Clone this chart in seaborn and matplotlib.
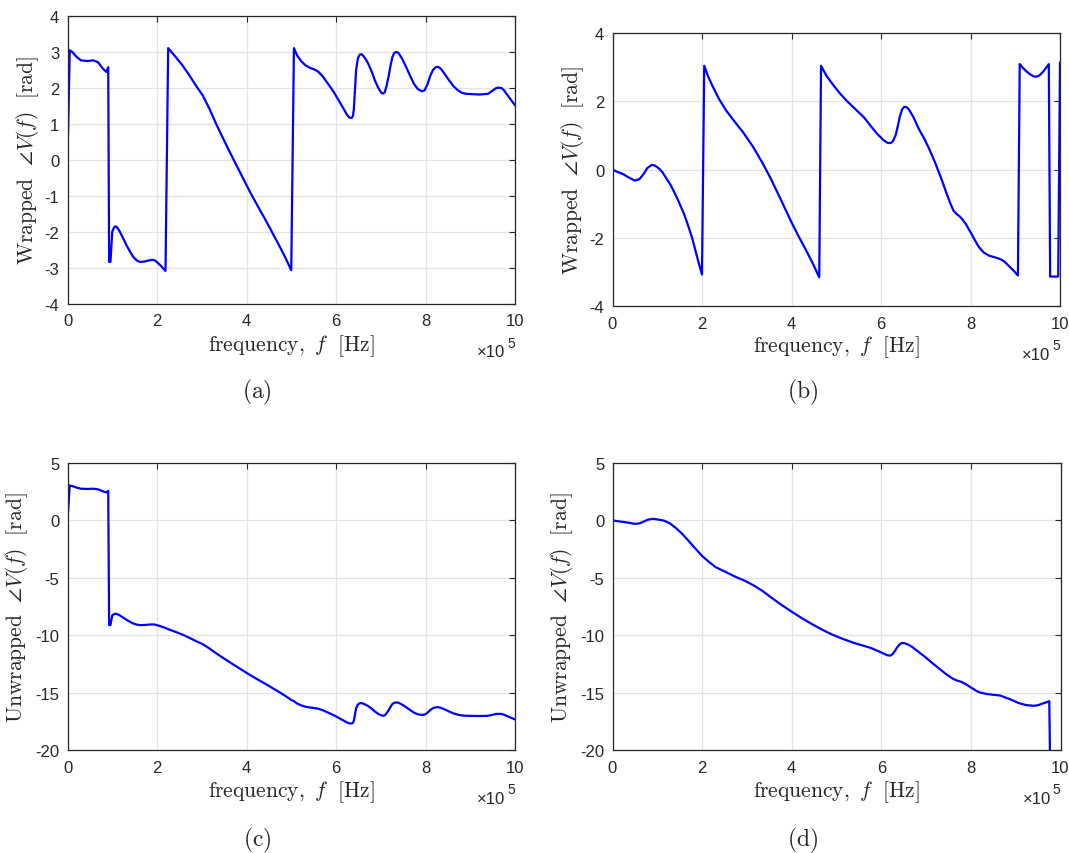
import matplotlib
matplotlib.use("Agg")
import matplotlib.pyplot as plt
import seaborn as sns
import pandas as pd
from matplotlib.ticker import FuncFormatter, MultipleLocator

# ---------------- data (frequency in units of 1e5 Hz, phase in rad) ----------------
freq_a = [0.0, 0.05, 0.11, 0.2, 0.3, 0.45, 0.57, 0.68, 0.79, 0.87, 0.91,
          0.93, 0.96, 1.0, 1.04, 1.07, 1.11, 1.17, 1.25, 1.32, 1.4, 1.47, 1.55, 1.62, 1.72, 1.81,
          1.9, 1.96, 2.08, 2.19,
          2.25, 2.4, 2.57, 2.72, 2.87, 3.02, 3.17, 3.32, 3.5, 3.7, 3.9, 4.08, 4.27, 4.45, 4.6,
          4.75, 4.88, 5.0,
          5.06, 5.13, 5.22, 5.32, 5.42, 5.51, 5.6, 5.7, 5.78, 5.85, 5.95, 6.04, 6.12, 6.19,
          6.25, 6.3, 6.35, 6.38, 6.4, 6.42, 6.45, 6.49, 6.53, 6.57, 6.6, 6.66, 6.72, 6.8,
          6.87, 6.95, 7.02, 7.06, 7.09, 7.13, 7.18, 7.22, 7.26, 7.3, 7.34, 7.38, 7.41, 7.48,
          7.55, 7.65, 7.74, 7.83, 7.92, 7.98, 8.04, 8.11, 8.17, 8.23, 8.28, 8.34, 8.43, 8.53,
          8.62, 8.72, 8.81, 8.91, 9.05, 9.21, 9.4, 9.5, 9.58, 9.64, 9.7, 9.76, 9.81, 9.9, 10.0]
phase_a = [0.0, 3.04, 2.99, 2.86, 2.76, 2.74, 2.76, 2.71, 2.53, 2.44, 2.57,
           -2.84, -2.84, -2.0, -1.88, -1.85, -1.88, -2.0, -2.2, -2.38, -2.56, -2.7, -2.8, -2.84,
           -2.83, -2.8, -2.78, -2.8, -2.94, -3.09,
           3.1, 2.88, 2.62, 2.35, 2.06, 1.79, 1.42, 1.0, 0.53, 0.03, -0.46, -0.9, -1.33, -1.73,
           -2.08, -2.43, -2.75, -3.07,
           3.1, 2.9, 2.74, 2.62, 2.55, 2.51, 2.45, 2.32, 2.18, 2.06, 1.88, 1.69, 1.52, 1.37,
           1.24, 1.17, 1.16, 1.22, 1.42, 1.85, 2.5, 2.82, 2.92, 2.93, 2.9, 2.8, 2.67, 2.44,
           2.2, 1.98, 1.85, 1.84, 1.88, 2.05, 2.34, 2.62, 2.85, 2.96, 2.99, 2.98, 2.94, 2.8,
           2.62, 2.35, 2.11, 1.96, 1.9, 1.93, 2.08, 2.34, 2.5, 2.57, 2.58, 2.53, 2.38, 2.2,
           2.05, 1.93, 1.86, 1.83, 1.82, 1.81, 1.83, 1.92, 1.99, 2.0, 1.99, 1.92, 1.83, 1.68, 1.51]

freq_c = freq_a
phase_c = [0.0, 3.04, 2.99, 2.86, 2.76, 2.74, 2.76, 2.71, 2.53, 2.44, 2.57,
           -9.12, -9.12, -8.28, -8.16, -8.13, -8.16, -8.28, -8.48, -8.66, -8.84, -8.98, -9.08, -9.12,
           -9.11, -9.08, -9.06, -9.08, -9.22, -9.37,
           -9.47, -9.69, -9.95, -10.22, -10.51, -10.78, -11.15, -11.57, -12.04, -12.54, -13.03,
           -13.47, -13.9, -14.30, -14.65, -15.0, -15.32, -15.64,
           -15.75, -15.95, -16.11, -16.23, -16.3, -16.34, -16.4, -16.53, -16.67, -16.79, -16.97,
           -17.16, -17.33, -17.48, -17.61, -17.68, -17.69, -17.63, -17.43, -17.0, -16.35, -16.03,
           -15.93, -15.92, -15.95, -16.05, -16.18, -16.41,
           -16.65, -16.87, -17.0, -17.01, -16.97, -16.8, -16.51, -16.23, -16.0, -15.89, -15.86,
           -15.87, -15.91, -16.05,
           -16.23, -16.5, -16.74, -16.89, -16.95, -16.92, -16.77, -16.51, -16.35, -16.28, -16.27,
           -16.32, -16.47, -16.65,
           -16.8, -16.92, -16.99, -17.02, -17.03, -17.04, -17.02, -16.93, -16.86, -16.85, -16.86,
           -16.93, -17.02, -17.17, -17.34]

freq_b = [0.0, 0.1, 0.25, 0.35, 0.5, 0.6, 0.7, 0.78, 0.88, 0.95, 1.05, 1.12, 1.2, 1.3, 1.38,
          1.45, 1.55, 1.6, 1.69, 1.78, 1.85, 1.92, 2.0,
          2.05, 2.14, 2.23, 2.38, 2.54, 2.72, 2.92, 3.03, 3.15, 3.35, 3.54, 3.77, 4.0, 4.15,
          4.31, 4.47, 4.62,
          4.66, 4.78, 4.92, 5.07, 5.23, 5.42, 5.62, 5.77, 5.92, 6.05, 6.15, 6.22, 6.27, 6.33,
          6.38, 6.42, 6.47, 6.52, 6.57, 6.62, 6.72, 6.85, 6.97, 7.08, 7.22,
          7.35, 7.45, 7.54, 7.62, 7.69, 7.75, 7.81, 7.9, 8.0, 8.1, 8.19, 8.3, 8.42, 8.55, 8.65,
          8.75, 8.85, 8.96, 9.06,
          9.1, 9.17, 9.23, 9.32, 9.41, 9.47, 9.54, 9.62, 9.7, 9.75, 9.78, 9.96, 10.0]
phase_b = [0.0, -0.06, -0.14, -0.22, -0.32, -0.28, -0.12, 0.05, 0.14, 0.12, 0.02, -0.08, -0.25,
           -0.45, -0.66, -0.85, -1.15, -1.3, -1.64, -2.0, -2.35, -2.7, -3.07,
           3.04, 2.72, 2.46, 2.07, 1.73, 1.42, 1.09, 0.88, 0.65, 0.2, -0.27, -0.9, -1.54, -1.93,
           -2.32, -2.73, -3.15,
           3.04, 2.75, 2.5, 2.25, 2.02, 1.78, 1.53, 1.28, 1.04, 0.87, 0.78, 0.78, 0.84, 1.02,
           1.3, 1.55, 1.76, 1.84, 1.83, 1.77, 1.55, 1.18, 0.9, 0.6, 0.17,
           -0.27, -0.64, -0.96, -1.2, -1.3, -1.36, -1.44, -1.6, -1.83, -2.07, -2.27, -2.43,
           -2.52, -2.57, -2.61, -2.68, -2.81, -2.95, -3.1,
           3.09, 2.98, 2.9, 2.8, 2.73, 2.72, 2.76, 2.86, 3.0, 3.09, -3.13, -3.13, 3.14]

freq_d = [0.0, 0.1, 0.25, 0.35, 0.5, 0.6, 0.7, 0.78, 0.88, 0.95, 1.05, 1.15, 1.28, 1.42,
          1.55, 1.69, 1.85, 2.0, 2.15, 2.3, 2.53, 2.76, 2.95,
          3.15, 3.35, 3.53, 3.75, 3.99, 4.22, 4.45, 4.68, 4.91, 5.14, 5.37, 5.57, 5.76, 5.95,
          6.08, 6.14, 6.2, 6.25, 6.3, 6.35, 6.41, 6.46, 6.52, 6.6, 6.68, 6.83,
          6.98, 7.13, 7.29, 7.45, 7.6, 7.69, 7.79, 7.9, 8.02, 8.12, 8.21, 8.35, 8.52, 8.65, 8.75,
          8.9, 9.06, 9.22, 9.4, 9.5, 9.6, 9.68, 9.75,
          9.77, 9.96]
phase_d = [0.0, -0.06, -0.14, -0.2, -0.3, -0.26, -0.1, 0.05, 0.13, 0.12, 0.05, -0.02,
           -0.25, -0.68, -1.15, -1.75, -2.45, -3.1, -3.6, -4.07, -4.5, -4.94, -5.25,
           -5.66, -6.15, -6.68, -7.3, -7.93, -8.5, -9.03, -9.52, -9.96, -10.32, -10.65, -10.88,
           -11.1, -11.42, -11.65, -11.75, -11.78, -11.65, -11.4, -11.08, -10.8, -10.68, -10.7,
           -10.82, -11.0, -11.45,
           -11.9, -12.4, -12.9, -13.4, -13.8, -13.95, -14.07, -14.3, -14.6, -14.85, -15.0, -15.12,
           -15.2, -15.25, -15.4, -15.62, -15.9, -16.08, -16.15, -16.1, -15.95, -15.85, -15.75,
           -22.0, -22.0]

x_label = r"$\mathrm{frequency,}\ f\ \ \mathrm{[Hz]}$"
y_labels = [r"$\mathrm{Wrapped}\ \ \angle V(f)\ \ \mathrm{[rad]}$",
            r"$\mathrm{Wrapped}\ \ \angle V(f)\ \ \mathrm{[rad]}$",
            r"$\mathrm{Unwrapped}\ \ \angle V(f)\ \ \mathrm{[rad]}$",
            r"$\mathrm{Unwrapped}\ \ \angle V(f)\ \ \mathrm{[rad]}$"]
captions = [r"$\mathrm{(a)}$", r"$\mathrm{(b)}$", r"$\mathrm{(c)}$", r"$\mathrm{(d)}$"]

# ---------------- style ----------------
sns.set_style("white")
plt.rcParams["font.family"] = ["Liberation Sans", "DejaVu Sans"]
plt.rcParams["mathtext.fontset"] = "cm"
plt.rcParams["axes.unicode_minus"] = False

W, H = 1069, 854
fig = plt.figure(figsize=(W / 100, H / 100), dpi=100)
fig.patch.set_facecolor("white")

def px_axes(l, t, r, b):
    return fig.add_axes([l / W, 1 - b / H, (r - l) / W, (b - t) / H])

boxes = [(67.5, 16.7, 515, 304.7), (612.5, 34, 1060, 307.3),
         (67.5, 464, 515, 751), (612.5, 464, 1060.5, 751)]
series = [(freq_a, phase_a), (freq_b, phase_b), (freq_c, phase_c), (freq_d, phase_d)]
ylims = [(-4, 4), (-4, 4), (-20, 5), (-20, 5)]
ysteps = [1, 2, 5, 5]
ylab_x = [-0.060, -0.060, -0.083, -0.083]
caption_pos = [(257, 392), (803, 392), (257, 840), (803, 840)]

dark = "#262626"
for i, ((l, t, r, b), (fx, ph)) in enumerate(zip(boxes, series)):
    ax = px_axes(l, t, r, b)
    df = pd.DataFrame({"f": fx, "phase": ph})
    sns.lineplot(data=df, x="f", y="phase", ax=ax, sort=False, estimator=None,
                 color="#0000ff", linewidth=1.6)
    ax.set_xlim(0, 10)
    ax.set_ylim(*ylims[i])
    ax.xaxis.set_major_locator(MultipleLocator(2))
    ax.yaxis.set_major_locator(MultipleLocator(ysteps[i]))
    fmt = FuncFormatter(lambda v, p: f"{v:g}")
    ax.xaxis.set_major_formatter(fmt)
    ax.yaxis.set_major_formatter(fmt)
    ax.grid(True, color="#e3e3e3", linewidth=0.9)
    ax.set_axisbelow(True)
    for s in ax.spines.values():
        s.set_visible(True)
        s.set_color(dark)
        s.set_linewidth(0.9)
    ax.tick_params(direction="in", length=4, width=0.8, colors=dark,
                   labelsize=12, top=True, right=True, pad=6)
    ax.tick_params(axis="x", pad=7)
    ax.set_xlabel(x_label, fontsize=15.5, color=dark)
    ax.set_ylabel(y_labels[i], fontsize=15.5, color=dark)
    hh = (b - t)
    ax.xaxis.set_label_coords(0.5, -(333 - 304.7) / 288)
    ax.yaxis.set_label_coords(ylab_x[i], 0.5)
    # multiplier text (x10^5)
    yoff = -46 / hh
    ax.annotate("5", xy=(1.0, yoff), xycoords="axes fraction", xytext=(0, 0),
                textcoords="offset points", ha="right", va="bottom",
                fontsize=10, color=dark)
    ax.annotate("\u00d710", xy=(1.0, yoff), xycoords="axes fraction", xytext=(-7, -7),
                textcoords="offset points", ha="right", va="bottom",
                fontsize=12, color=dark)
    cx, cy = caption_pos[i]
    fig.text(cx / W, 1 - cy / H, captions[i], fontsize=17, ha="center", va="center",
             color=dark)

fig.savefig("out.png", dpi=100, facecolor="white")
